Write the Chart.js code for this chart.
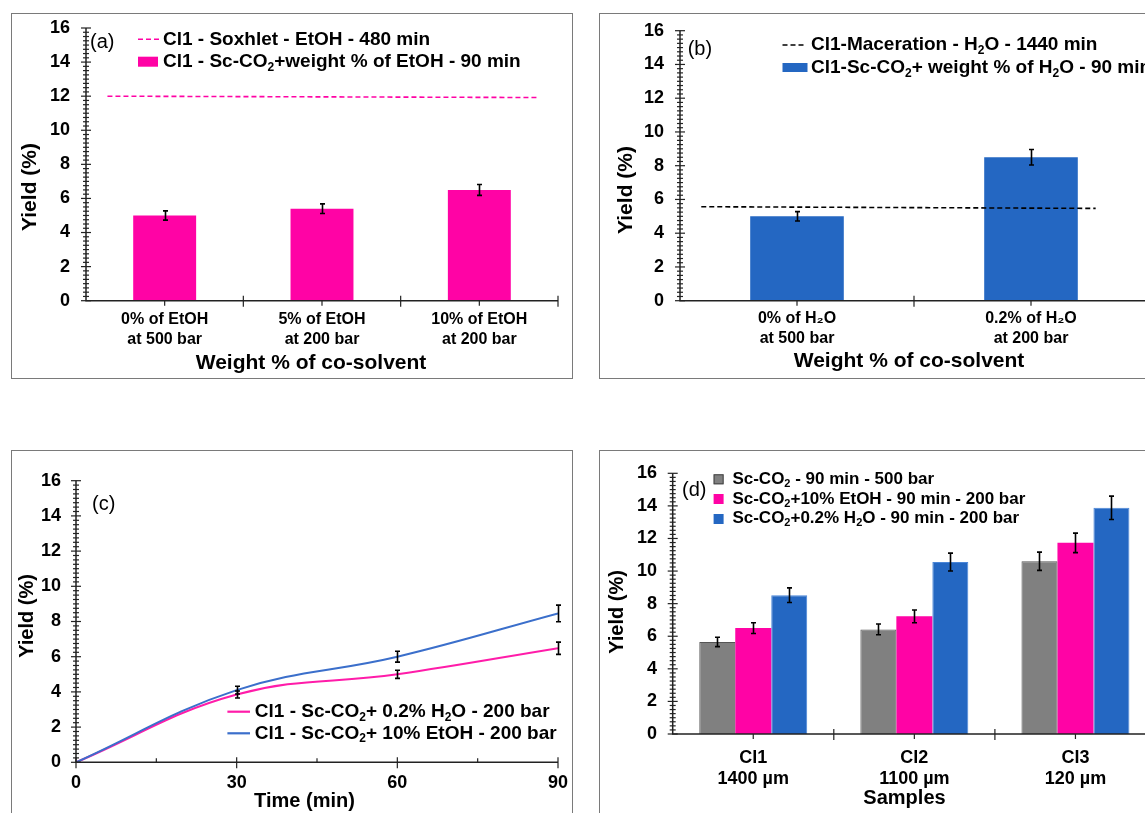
<!DOCTYPE html>
<html><head><meta charset="utf-8">
<script src="https://cdn.jsdelivr.net/npm/chart.js@4.4.1/dist/chart.umd.min.js"></script>
<style>
html,body{margin:0;padding:0;background:#fff;overflow:hidden;width:1145px;height:813px;}
#wrap{position:relative;width:1145px;height:813px;overflow:hidden;background:#fff;}
.box{position:absolute;border:1.5px solid #7a7a7a;box-sizing:border-box;}
canvas{position:absolute;}
</style></head><body><div id="wrap">
<div class="box" style="left:11px;top:13px;width:562px;height:366px"></div>
<div class="box" style="left:599px;top:13px;width:600px;height:366px"></div>
<div class="box" style="left:11px;top:450px;width:562px;height:420px"></div>
<div class="box" style="left:599px;top:450px;width:600px;height:420px"></div>
<canvas id="cA" width="586" height="400" style="left:0;top:0;width:586px;height:400px"></canvas>
<canvas id="cB" width="600" height="400" style="left:586px;top:0;width:600px;height:400px"></canvas>
<canvas id="cC" width="586" height="400" style="left:0;top:430px;width:586px;height:400px"></canvas>
<canvas id="cD" width="600" height="400" style="left:586px;top:430px;width:600px;height:400px"></canvas>
</div>
<script>
// ---------- data ----------
// (a)
const catsA = [['0% of EtOH', 'at 500 bar'], ['5% of EtOH', 'at 200 bar'], ['10% of EtOH', 'at 200 bar']];
const yieldA = [5.0, 5.4, 6.5];
const errA = [0.27, 0.28, 0.32];
const soxhletA = [12.0, 11.92];
const seriesA = ['Cl1 - Soxhlet - EtOH - 480 min', 'Cl1 - Sc-CO₂+weight % of EtOH - 90 min'];
// (b)
const catsB = [['0% of H₂O', 'at 500 bar'], ['0.2% of H₂O', 'at 200 bar']];
const yieldB = [5.0, 8.5];
const errB = [0.28, 0.46];
const macerationB = [5.57, 5.47];
const seriesB = ['Cl1-Maceration - H₂O - 1440 min', 'Cl1-Sc-CO₂+ weight % of H₂O - 90 min'];
// (c)
const timeC = [0, 30, 60, 90];
const h2oC = [0, 3.85, 5.0, 6.48];
const errH2oC = [0, 0.2, 0.23, 0.35];
const etohC = [0, 4.1, 6.0, 8.46];
const errEtohC = [0, 0.22, 0.31, 0.47];
const seriesC = ['Cl1 - Sc-CO₂+ 0.2% H₂O - 200 bar', 'Cl1 - Sc-CO₂+ 10% EtOH - 200 bar'];
// (d)
const catsD = [['Cl1', '1400 µm'], ['Cl2', '1100 µm'], ['Cl3', '120 µm']];
const scco2D = [5.65, 6.42, 10.6];
const etohD = [6.5, 7.22, 11.73];
const h2oD = [8.52, 10.55, 13.88];
const errScco2D = [0.29, 0.33, 0.56];
const errEtohD = [0.33, 0.39, 0.6];
const errH2oD = [0.45, 0.55, 0.72];
const seriesD = ['Sc-CO₂ - 90 min - 500 bar', 'Sc-CO₂+10% EtOH - 90 min - 200 bar', 'Sc-CO₂+0.2% H₂O - 90 min - 200 bar'];
// axes
const yMin = 0, yMax = 16, yStep = 2, yMinorStep = 0.25;
const xTimeTicks = [0, 30, 60, 90];
const xTimeMinor = [15, 45, 75];
const yTitle = 'Yield (%)';
const xTitleAB = 'Weight % of co-solvent';
const xTitleC = 'Time (min)';
const xTitleD = 'Samples';
const panelLabels = ['(a)', '(b)', '(c)', '(d)'];

// ---------- style ----------
const FF = "'Liberation Sans', Arial, Helvetica, sans-serif";
const PINK = '#FF03A5', BLUE = '#2467C2', GREY = '#808080';
const PINK_L = '#FF1CA9', BLUE_L = '#3B6FCB';
Chart.defaults.font.family = FF;
Chart.defaults.color = '#000';

function rich(ctx, text, x, y, size, weight) {
  const parts = text.split(/(₂)/);
  let cx = x;
  ctx.textBaseline = 'middle'; ctx.textAlign = 'left'; ctx.fillStyle = '#000';
  for (const p of parts) {
    if (!p) continue;
    if (p === '₂') {
      ctx.font = `${weight} ${Math.round(size * 0.65)}px ${FF}`;
      ctx.fillText('2', cx, y + size * 0.3);
      cx += ctx.measureText('2').width;
    } else {
      ctx.font = `${weight} ${size}px ${FF}`;
      ctx.fillText(p, cx, y);
      cx += ctx.measureText(p).width;
    }
  }
}

const deco = {
  id: 'deco',
  afterDatasetsDraw(chart, args, o) {
    const ctx = chart.ctx;
    const xs = chart.scales.x, ys = chart.scales.y;
    ctx.save();
    // error bars
    chart.data.datasets.forEach((ds, i) => {
      if (!ds.errors) return;
      const meta = chart.getDatasetMeta(i);
      meta.data.forEach((el, j) => {
        const e = ds.errors[j]; if (!e) return;
        const raw = ds.data[j]; const v = (typeof raw === 'object') ? raw.y : raw;
        const x = Math.round(el.x) + 0.5;
        const y1 = ys.getPixelForValue(v + e), y2 = ys.getPixelForValue(v - e);
        ctx.strokeStyle = '#000'; ctx.lineWidth = 1.6;
        ctx.beginPath();
        ctx.moveTo(x, y1); ctx.lineTo(x, y2);
        ctx.moveTo(x - 2.5, y1); ctx.lineTo(x + 2.5, y1);
        ctx.moveTo(x - 2.5, y2); ctx.lineTo(x + 2.5, y2);
        ctx.stroke();
      });
    });
    // axes
    const L = xs.left, R = xs.right, T = ys.top, B = ys.bottom;
    ctx.strokeStyle = '#222'; ctx.lineWidth = 1.5;
    ctx.beginPath(); ctx.moveTo(L, T); ctx.lineTo(L, B); ctx.lineTo(R, B); ctx.stroke();
    ctx.lineWidth = 1.2;
    const seg = (a, b, c, d) => { ctx.beginPath(); ctx.moveTo(a, b); ctx.lineTo(c, d); ctx.stroke(); };
    const nMinor = Math.round((yMax - yMin) / yMinorStep);
    const per = Math.round(yStep / yMinorStep);
    for (let k = 0; k <= nMinor; k++) {
      const py = ys.getPixelForValue(yMin + k * yMinorStep);
      if (k % per === 0) seg(L - 5, py, L + 5, py); else seg(L - 3, py, L + 3, py);
    }
    if (o.xMode === 'category') {
      const n = chart.data.labels.length; const w = (R - L) / n;
      for (let k = 1; k <= n; k++) { const px = L + k * w; seg(px, B - 5, px, B + 6); }
      for (let k = 0; k < n; k++) { const px = xs.getPixelForValue(k); seg(px, B, px, B + 5); }
    } else {
      xTimeTicks.forEach(v => { const px = xs.getPixelForValue(v); seg(px, B - 5, px, B + 6); });
      xTimeMinor.forEach(v => { const px = xs.getPixelForValue(v); seg(px, B - 4, px, B); });
    }
    // axis titles
    ctx.fillStyle = '#000'; ctx.textBaseline = 'middle'; ctx.textAlign = 'center';
    ctx.font = `bold ${o.xTitle.size}px ${FF}`;
    ctx.fillText(o.xTitle.text, o.xTitle.cx, o.xTitle.cy);
    ctx.save();
    ctx.translate(o.yTitle.cx, o.yTitle.cy); ctx.rotate(-Math.PI / 2);
    ctx.font = `bold ${o.yTitle.size}px ${FF}`;
    ctx.fillText(o.yTitle.text, 0, 0);
    ctx.restore();
    // panel label
    ctx.textAlign = 'left';
    ctx.font = `normal ${o.label.size}px ${FF}`;
    ctx.fillText(o.label.text, o.label.x, o.label.y);
    // legend
    (o.legend || []).forEach(it => {
      ctx.save();
      if (it.kind === 'dash') {
        ctx.strokeStyle = it.color; ctx.lineWidth = 1.6; ctx.setLineDash([5, 3]);
        seg(it.x1, it.y, it.x2, it.y);
      } else if (it.kind === 'line') {
        ctx.strokeStyle = it.color; ctx.lineWidth = 2.2;
        seg(it.x1, it.y, it.x2, it.y);
      } else {
        ctx.fillStyle = it.color; ctx.fillRect(it.bx, it.by, it.bw, it.bh);
        if (it.stroke) { ctx.strokeStyle = it.stroke; ctx.lineWidth = 1; ctx.strokeRect(it.bx + 0.5, it.by + 0.5, it.bw - 1, it.bh - 1); }
      }
      ctx.restore();
      rich(ctx, it.text, it.tx, it.y, it.size, 'bold');
    });
    ctx.restore();
  }
};

function yAxisCfg(width, pad) {
  return {
    type: 'linear', position: 'left', min: yMin, max: yMax,
    grid: { display: false, drawTicks: false }, border: { display: false },
    ticks: { stepSize: yStep, font: { size: 18, weight: 'bold' }, color: '#000', padding: pad },
    title: { display: false },
    afterFit: s => { s.width = width; }
  };
}
function xCatCfg(height, pad, fontSize) {
  return {
    type: 'category', offset: true,
    grid: { display: false, drawTicks: false }, border: { display: false },
    ticks: { font: { size: fontSize, weight: 'bold' }, color: '#000', padding: pad, autoSkip: false, maxRotation: 0, minRotation: 0 },
    title: { display: false },
    afterFit: s => { s.height = height; }
  };
}
const common = { responsive: false, animation: false, devicePixelRatio: 1, events: [] };

// ---------- (a) ----------
new Chart(document.getElementById('cA'), {
  type: 'bar',
  data: {
    labels: catsA,
    datasets: [
      { type: 'line', label: seriesA[0], xAxisID: 'x2', data: [{ x: 0, y: soxhletA[0] }, { x: 1, y: soxhletA[1] }],
        borderColor: PINK, borderWidth: 1.6, borderDash: [5, 3], pointRadius: 0, fill: false, order: 0 },
      { label: seriesA[1], data: yieldA, errors: errA, backgroundColor: PINK, borderWidth: 0, grouped: false,
        barPercentage: 0.4, categoryPercentage: 1.0, order: 1 }
    ]
  },
  options: Object.assign({}, common, {
    layout: { padding: { left: 0, top: 28, right: 28, bottom: 0 } },
    scales: {
      x: xCatCfg(99.3, 9.7, 16),
      x2: { type: 'linear', display: false, min: 0, max: 1 },
      y: yAxisCfg(86, 16)
    },
    plugins: {
      legend: { display: false }, tooltip: { enabled: false },
      deco: {
        xMode: 'category',
        xTitle: { text: xTitleAB, cx: 311, cy: 363, size: 21 },
        yTitle: { text: yTitle, cx: 30.4, cy: 187, size: 21 },
        label: { text: panelLabels[0], x: 90, y: 42.7, size: 20 },
        legend: [
          { kind: 'dash', color: PINK, x1: 138, x2: 160, y: 39.3, tx: 163, text: seriesA[0], size: 19 },
          { kind: 'box', color: PINK, bx: 138, by: 56.7, bw: 20, bh: 10, y: 61.7, tx: 163, text: seriesA[1], size: 19 }
        ]
      }
    }
  }),
  plugins: [deco]
});

// ---------- (b) ----------
new Chart(document.getElementById('cB'), {
  type: 'bar',
  data: {
    labels: catsB,
    datasets: [
      { type: 'line', label: seriesB[0], xAxisID: 'x2', data: [{ x: 0, y: macerationB[0] }, { x: 0.927, y: macerationB[1] }],
        borderColor: '#000', borderWidth: 1.6, borderDash: [5, 3], pointRadius: 0, fill: false, order: 0 },
      { label: seriesB[1], data: yieldB, errors: errB, backgroundColor: BLUE, borderWidth: 0, grouped: false,
        barPercentage: 0.4, categoryPercentage: 1.0, order: 1 }
    ]
  },
  options: Object.assign({}, common, {
    layout: { padding: { left: 0, top: 30.7, right: 38, bottom: 0 } },
    scales: {
      x: xCatCfg(99.3, 8.7, 16),
      x2: { type: 'linear', display: false, min: 0, max: 1 },
      y: yAxisCfg(94, 16)
    },
    plugins: {
      legend: { display: false }, tooltip: { enabled: false },
      deco: {
        xMode: 'category',
        xTitle: { text: xTitleAB, cx: 323, cy: 361, size: 21 },
        yTitle: { text: yTitle, cx: 40.3, cy: 190, size: 21 },
        label: { text: panelLabels[1], x: 101.7, y: 49, size: 20 },
        legend: [
          { kind: 'dash', color: '#000', x1: 196.5, x2: 217.5, y: 45, tx: 225, text: seriesB[0], size: 19 },
          { kind: 'box', color: BLUE, bx: 196.5, by: 63, bw: 25, bh: 9, y: 68, tx: 225, text: seriesB[1], size: 19 }
        ]
      }
    }
  }),
  plugins: [deco]
});

// ---------- (c) ----------
new Chart(document.getElementById('cC'), {
  type: 'line',
  data: {
    datasets: [
      { label: seriesC[0], data: timeC.map((t, i) => ({ x: t, y: h2oC[i] })), errors: errH2oC,
        borderColor: PINK_L, borderWidth: 2, pointRadius: 0, tension: 0.4, fill: false, order: 1 },
      { label: seriesC[1], data: timeC.map((t, i) => ({ x: t, y: etohC[i] })), errors: errEtohC,
        borderColor: BLUE_L, borderWidth: 2, pointRadius: 0, tension: 0.4, fill: false, order: 0 }
    ]
  },
  options: Object.assign({}, common, {
    layout: { padding: { left: 0, top: 50.7, right: 28, bottom: 0 } },
    scales: {
      x: {
        type: 'linear', min: 0, max: 90,
        grid: { display: false, drawTicks: false }, border: { display: false },
        ticks: { stepSize: 30, font: { size: 18, weight: 'bold' }, color: '#000', padding: 10.2, maxRotation: 0 },
        title: { display: false },
        afterFit: s => { s.height = 67.7; }
      },
      y: yAxisCfg(76, 15)
    },
    plugins: {
      legend: { display: false }, tooltip: { enabled: false },
      deco: {
        xMode: 'linear',
        xTitle: { text: xTitleC, cx: 304.5, cy: 371.7, size: 20 },
        yTitle: { text: yTitle, cx: 27.8, cy: 186, size: 20 },
        label: { text: panelLabels[2], x: 92, y: 74, size: 20 },
        legend: [
          { kind: 'line', color: PINK_L, x1: 227.4, x2: 250, y: 281.7, tx: 254.8, text: seriesC[0], size: 19 },
          { kind: 'line', color: BLUE_L, x1: 227.4, x2: 250, y: 303.3, tx: 254.8, text: seriesC[1], size: 19 }
        ]
      }
    }
  }),
  plugins: [deco]
});

// ---------- (d) ----------
const barD = { barPercentage: 1.0, categoryPercentage: 0.67 };
new Chart(document.getElementById('cD'), {
  type: 'bar',
  data: {
    labels: catsD,
    datasets: [
      Object.assign({ label: seriesD[0], data: scco2D, errors: errScco2D, backgroundColor: GREY, borderColor: '#555', borderWidth: 1 }, barD),
      Object.assign({ label: seriesD[1], data: etohD, errors: errEtohD, backgroundColor: PINK, borderWidth: 0 }, barD),
      Object.assign({ label: seriesD[2], data: h2oD, errors: errH2oD, backgroundColor: BLUE, borderColor: '#4a86d8', borderWidth: 1 }, barD)
    ]
  },
  options: Object.assign({}, common, {
    layout: { padding: { left: 0, top: 43.3, right: 30, bottom: 0 } },
    scales: {
      x: xCatCfg(96, 12.8, 18),
      y: yAxisCfg(86.7, 15.7)
    },
    plugins: {
      legend: { display: false }, tooltip: { enabled: false },
      deco: {
        xMode: 'category',
        xTitle: { text: xTitleD, cx: 318.5, cy: 368, size: 20 },
        yTitle: { text: yTitle, cx: 31.6, cy: 182, size: 20 },
        label: { text: panelLabels[3], x: 96, y: 60, size: 20 },
        legend: [
          { kind: 'box', color: GREY, stroke: '#444', bx: 127.6, by: 44.3, bw: 10, bh: 10, y: 49.3, tx: 146.4, text: seriesD[0], size: 17 },
          { kind: 'box', color: PINK, bx: 127.6, by: 64, bw: 10, bh: 10, y: 69, tx: 146.4, text: seriesD[1], size: 17 },
          { kind: 'box', color: BLUE, bx: 127.6, by: 84, bw: 10, bh: 10, y: 88.3, tx: 146.4, text: seriesD[2], size: 17 }
        ]
      }
    }
  }),
  plugins: [deco]
});
</script>
</body></html>
